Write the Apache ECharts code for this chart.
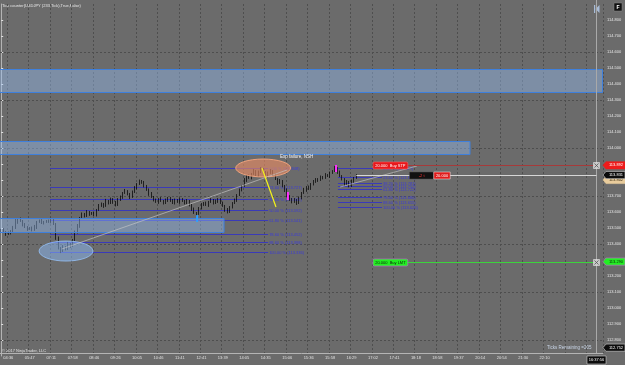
<!DOCTYPE html>
<html><head><meta charset="utf-8">
<script src="https://cdn.jsdelivr.net/npm/echarts@6/dist/echarts.min.js"></script>
<style>html,body{margin:0;padding:0;background:#6b6b6b}#c{width:625px;height:365px}</style>
</head><body><div id="c"></div>
<script>
// ---------- data ----------
const timeLabels = ['04:36','05:47','07:11','07:58','08:46','09:26','10:05','10:46','11:41','12:41','13:39','14:05','14:35','15:06','15:36','15:58','16:29','17:02','17:41','18:18','18:58','19:37','20:14','20:54','21:30','22:10'];
const firstOpen = 113.481;
const closes = [
113.488,113.475,113.463,113.469,113.481,113.500,113.538,113.556,113.544,113.519,
113.506,113.494,113.500,113.488,113.506,113.538,113.544,113.531,113.538,113.544,
113.538,113.550,113.525,113.438,113.375,113.356,113.381,113.369,113.400,113.388,
113.425,113.475,113.513,113.563,113.588,113.575,113.600,113.588,113.594,113.581,
113.613,113.638,113.650,113.638,113.669,113.656,113.681,113.663,113.644,113.675,
113.694,113.719,113.731,113.713,113.694,113.725,113.750,113.775,113.794,113.788,
113.763,113.738,113.713,113.694,113.675,113.663,113.681,113.669,113.656,113.675,
113.688,113.669,113.656,113.675,113.663,113.681,113.669,113.656,113.669,113.644,
113.619,113.594,113.588,113.625,113.644,113.656,113.644,113.663,113.675,113.656,
113.669,113.681,113.656,113.638,113.613,113.600,113.631,113.656,113.675,113.706,
113.738,113.763,113.800,113.825,113.813,113.838,113.856,113.831,113.850,113.869,
113.850,113.825,113.844,113.856,113.831,113.806,113.781,113.794,113.763,113.738,
113.700,113.681,113.663,113.675,113.656,113.688,113.719,113.738,113.756,113.744,
113.775,113.788,113.806,113.800,113.819,113.813,113.831,113.825,113.844,113.856,
113.875,113.850,113.825,113.806,113.775,113.788,113.763,113.794,113.813,113.831];
// wick lengths in points (0.001)
const wickUp = [6,12,6,9,6,13,19,6,9,6,12,6,6,9,13,6,9,12,6,6,
9,13,6,6,9,6,12,6,13,6,6,9,12,6,9,6,12,6,6,9,
6,12,9,6,13,6,9,6,6,12,9,6,13,6,6,9,12,6,9,6,
6,6,9,12,6,9,6,12,6,9,6,6,12,9,6,9,6,6,12,6,
6,9,6,6,12,6,9,6,12,6,9,6,6,9,6,12,6,6,9,6,
9,6,12,6,9,6,13,6,9,12,6,6,9,13,6,9,6,12,6,6,
9,6,6,12,6,9,6,13,6,9,6,12,6,6,9,6,12,6,9,6,
13,6,9,6,6,12,6,9,6,6];
const wickDn = [9,6,12,6,9,6,6,12,6,9,6,12,6,9,6,12,6,6,9,6,
6,9,6,12,9,13,6,9,6,12,6,6,9,12,6,9,6,12,6,6,
9,6,6,12,6,9,6,12,9,6,6,12,6,9,13,6,6,9,6,12,
9,6,12,6,9,6,12,6,9,6,12,6,6,9,6,12,6,9,6,9,
12,6,13,6,9,6,6,12,6,9,6,12,6,6,12,9,6,9,6,12,
6,9,6,12,6,9,6,6,12,6,9,6,12,6,9,6,12,6,9,13,
6,12,9,6,12,6,9,6,12,6,6,9,6,12,6,9,6,6,12,6,
6,12,6,9,12,6,9,6,12,6];
const gridLevels = [114.6,114.3,114.0,113.7,113.4,113.1,112.8];
const zoneTop = [114.494,114.044,113.563];
const zoneBottom = [114.350,113.963,113.475];
const zoneEnd = [252.3,196.7,93.5];
const fibLeftPrices = [113.875,113.756,113.681,113.613,113.550,113.463,113.413,113.350];
const fibLeftLabels = ['0.00 % (113.848)','23.60 % (113.727)','38.20 % (113.652)','50.00 % (113.592)','61.80 % (113.541)','78.60 % (113.452)','88.60 % (113.398)','100.00 % (113.336)'];
const fibLeftSpan = [20.5,112.0];
const fibRightPrices = [113.875,113.819,113.781,113.763,113.744,113.694,113.663,113.631];
const fibRightLabels = ['0.00 % (113.877)','23.60 % (113.818)','38.20 % (113.781)','50.00 % (113.752)','61.80 % (113.722)','78.60 % (113.680)','88.60 % (113.655)','100.00 % (113.626)'];
const fibRightSpan = [141.3,159.8];
const ellipseX = [109.9,27.2];
const ellipseP = [113.875,113.356];
const ellipseHalfW = [11.5,11.3];
const ellipseHalfH = [0.056,0.0625];
const diagX0 = [25.5,142.2,109.4];
const diagP0 = [113.369,113.756,113.875];
const diagX1 = [120.0,174.5,115.3];
const diagP1 = [113.863,113.888,113.631];
const markerX = [120.3,140.5,82.2];
const markerTopP = [113.725,113.894,113.581];
const markerBotP = [113.675,113.850,113.538];
const orderPrices = [113.892,113.290];
const orderLabels = ['20.000  Buy STP','20.000  Buy LMT'];
const orderLabelSpan = [156.0,170.6];
const nowIndex = 249.6;
const badgePrices = [113.892,113.800,113.290,112.752];
const badgeTexts = ['113.892','113.802','113.290','112.752'];
const positionQty = '20.000';
const positionPnl = '-2 t';
const noteText = 'Exp failure, NSH';
const noteX = 117.0, noteP = 113.944;

// ---------- build ----------
const N = 253;
const cats = Array.from({length:N}, (_, i) => String(i));
const ohlc = closes.map((c, i) => {
  const o = i === 0 ? firstOpen : closes[i-1];
  return [o, c, Math.min(o,c) - wickDn[i]*0.001, Math.max(o,c) + wickUp[i]*0.001];
});
const lastClose = closes[closes.length-1];
const FONT = '"Liberation Sans", Arial, sans-serif';
const labelTick = (i) => i % 9 === 3;

function txt(x, y, t, fill, size, align, va, weight) {
  return {type:'text', x, y, style:{text:t, fill, fontSize:size||4, fontFamily:FONT, fontWeight:weight||'normal', align:align||'left', verticalAlign:va||'middle'}};
}

const chart = echarts.init(document.getElementById('c'), null, {renderer:'canvas'});
const option = {
  backgroundColor:'#6b6b6b',
  animation:false,
  grid:{left:0, right:22, top:4, bottom:9, containLabel:false},
  xAxis:[{
    type:'category', data:cats, boundaryGap:true, offset:-3,
    axisLine:{show:true, lineStyle:{color:'#b4b4b4', width:1}},
    axisTick:{show:false},
    axisLabel:{interval:labelTick, color:'#e0e0e0', fontSize:4, fontFamily:FONT, margin:3,
      formatter:(v, idx) => timeLabels[(idx-3)/9] || ''},
    splitLine:{show:true, interval:labelTick, lineStyle:{color:'#4e4e4e', width:1, type:[2,2]}}
  },{
    type:'value', min:-0.5, max:252.5, show:false
  }],
  yAxis:{
    type:'value', position:'right', min:112.7, max:114.9, interval:0.1,
    axisLine:{show:true, lineStyle:{color:'#b4b4b4'}},
    axisTick:{show:true, length:2, lineStyle:{color:'#e0e0e0'}},
    axisLabel:{color:'#e6e6e6', fontSize:4, fontFamily:FONT, margin:4, showMinLabel:false, showMaxLabel:false,
      formatter:(v) => v.toFixed(3)},
    splitLine:{show:false}
  },
  series:[
    { // horizontal dashed grid
      type:'custom', xAxisIndex:1, z:1, silent:true, data:gridLevels.map(p => [p]),
      renderItem:(params, api) => {
        const p = gridLevels[params.dataIndex];
        const a = api.coord([-0.5, p]), b = api.coord([252.5, p]);
        return {type:'line', shape:{x1:a[0], y1:Math.round(a[1])+0.5, x2:b[0], y2:Math.round(a[1])+0.5},
          style:{stroke:'#4e4e4e', lineWidth:1, lineDash:[2,2]}};
      }
    },
    { // fibonacci lines
      type:'custom', xAxisIndex:1, z:2, silent:true,
      data:fibLeftPrices.concat(fibRightPrices).map(p => [p]),
      renderItem:(params, api) => {
        const i = params.dataIndex;
        const left = i < fibLeftPrices.length;
        const k = left ? i : i - fibLeftPrices.length;
        const p = left ? fibLeftPrices[k] : fibRightPrices[k];
        const span = left ? fibLeftSpan : fibRightSpan;
        const lab = left ? fibLeftLabels[k] : fibRightLabels[k];
        const a = api.coord([span[0], p]), b = api.coord([span[1], p]);
        const y = Math.round(a[1]) + 0.5;
        return {type:'group', children:[
          {type:'line', shape:{x1:a[0], y1:y, x2:b[0], y2:y}, style:{stroke:'#3a3ab8', lineWidth:1}},
          txt(b[0]+1, y, lab, '#3b3bd8', 4, 'left', 'middle')
        ]};
      }
    },
    { // price bars
      type:'candlestick', xAxisIndex:0, z:3, data:ohlc, barWidth:1.2, silent:true,
      itemStyle:{color:'#000', color0:'#000', borderColor:'#000', borderColor0:'#000', borderWidth:0.7}
    },
    { // zones
      type:'custom', xAxisIndex:1, z:4, silent:true, data:zoneTop.map(p => [p]),
      renderItem:(params, api) => {
        const i = params.dataIndex;
        const a = api.coord([-0.5, zoneTop[i]]), b = api.coord([zoneEnd[i], zoneBottom[i]]);
        return {type:'rect', shape:{x:a[0]-1, y:Math.round(a[1])+0.5, width:b[0]-a[0]+1, height:Math.round(b[1]-a[1])},
          style:{fill:'rgba(150,190,245,0.42)', stroke:'#3f80dc', lineWidth:1}};
      }
    },
    { // ellipses
      type:'custom', xAxisIndex:1, z:4, silent:true, data:ellipseX.map(x => [x]),
      renderItem:(params, api) => {
        const i = params.dataIndex;
        const c = api.coord([ellipseX[i], ellipseP[i]]);
        const e = api.coord([ellipseX[i] + ellipseHalfW[i], ellipseP[i] - ellipseHalfH[i]]);
        const rx = e[0] - c[0], ry = e[1] - c[1];
        const d = `M ${c[0]-rx} ${c[1]} A ${rx} ${ry} 0 1 0 ${c[0]+rx} ${c[1]} A ${rx} ${ry} 0 1 0 ${c[0]-rx} ${c[1]} Z`;
        const fill = i === 0 ? 'rgba(236,140,100,0.62)' : 'rgba(140,185,245,0.5)';
        const stroke = i === 0 ? 'rgba(245,165,125,0.9)' : 'rgba(150,195,250,0.8)';
        return {type:'path', shape:{pathData:d}, style:{fill, stroke, lineWidth:1}};
      }
    },
    { // drawn trend lines
      type:'custom', xAxisIndex:1, z:5, silent:true, data:diagX0.map(x => [x]),
      renderItem:(params, api) => {
        const i = params.dataIndex;
        const a = api.coord([diagX0[i], diagP0[i]]), b = api.coord([diagX1[i], diagP1[i]]);
        const yellow = i === 2;
        return {type:'line', shape:{x1:a[0], y1:a[1], x2:b[0], y2:b[1]},
          style:{stroke: yellow ? '#f4f41c' : 'rgba(200,200,200,0.8)', lineWidth: yellow ? 1.2 : 0.8}};
      }
    },
    { // signal markers
      type:'custom', xAxisIndex:1, z:5, silent:true, data:markerX.map(x => [x]),
      renderItem:(params, api) => {
        const i = params.dataIndex;
        const a = api.coord([markerX[i], markerTopP[i]]), b = api.coord([markerX[i], markerBotP[i]]);
        return {type:'rect', shape:{x:a[0]-1, y:a[1], width:2, height:b[1]-a[1]},
          style:{fill: i < 2 ? '#ff30ff' : '#2ea0ff'}};
      }
    },
    { // orders, current price line, position, note, now line, axis badges
      type:'custom', xAxisIndex:1, z:6, silent:true, data:[[0]],
      renderItem:(params, api) => {
        const ch = [];
        const nowX = Math.round(api.coord([nowIndex, lastClose])[0]) + 0.5;
        const bot = api.coord([0, 112.7])[1];
        ch.push({type:'line', shape:{x1:nowX, y1:0, x2:nowX, y2:bot-3}, style:{stroke:'#a9a9a9', lineWidth:1}});
        const lc = api.coord([closes.length-1, lastClose]);
        const ly = Math.round(lc[1]) + 0.5;
        ch.push({type:'line', shape:{x1:lc[0], y1:ly, x2:nowX, y2:ly}, style:{stroke:'#d6d6d6', lineWidth:1}});
        const p0 = api.coord([171.3, lastClose])[0], p1 = api.coord([181.5, lastClose])[0], p2 = api.coord([188.4, lastClose])[0];
        ch.push({type:'rect', shape:{x:p0, y:ly-3.5, width:p1-p0, height:7}, style:{fill:'#111', stroke:'#555', lineWidth:0.5}});
        ch.push(txt((p0+p1)/2, ly, positionPnl, '#ff3030', 4, 'center'));
        ch.push({type:'rect', shape:{x:p1, y:ly-3.5, width:p2-p1, height:7}, style:{fill:'#e01c1c', stroke:'#f0f0f0', lineWidth:0.5}});
        ch.push(txt((p1+p2)/2, ly, positionQty, '#ffffff', 4, 'center'));
        orderPrices.forEach((p, i) => {
          const a = api.coord([orderLabelSpan[0], p]), b = api.coord([orderLabelSpan[1], p]);
          const y = Math.round(a[1]) + 0.5;
          const red = i === 0;
          ch.push({type:'line', shape:{x1:b[0], y1:y, x2:nowX, y2:y}, style:{stroke: red ? '#a63a3a' : '#3cd43c', lineWidth:1}});
          ch.push({type:'rect', shape:{x:a[0], y:y-3.5, width:b[0]-a[0], height:7, r:1.5},
            style:{fill: red ? '#e8181c' : '#22ee22', stroke: red ? '#ff6060' : '#c070d0', lineWidth:0.6}});
          ch.push(txt((a[0]+b[0])/2, y, orderLabels[i], red ? '#ffffff' : '#102010', 4, 'center'));
          ch.push({type:'rect', shape:{x:nowX-3, y:y-3, width:6, height:6}, style:{fill:'#c8c8c8', stroke:'#f0f0f0', lineWidth:0.5}});
          ch.push({type:'line', shape:{x1:nowX-2, y1:y-2, x2:nowX+2, y2:y+2}, style:{stroke:'#555', lineWidth:0.8}});
          ch.push({type:'line', shape:{x1:nowX-2, y1:y+2, x2:nowX+2, y2:y-2}, style:{stroke:'#555', lineWidth:0.8}});
        });
        const n = api.coord([noteX, noteP]);
        ch.push(txt(n[0], n[1], noteText, '#f2f2f2', 4.5, 'left'));
        const ax = api.coord([252.5, lastClose])[0];
        const badge = (p, t, fill, color, stroke) => {
          const y = api.coord([0, p])[1];
          ch.push({type:'polygon', shape:{points:[[ax,y],[ax+3,y-3.6],[625,y-3.6],[625,y+3.6],[ax+3,y+3.6]]},
            style:{fill, stroke:stroke||fill, lineWidth:0.6}});
          ch.push(txt(ax+13, y, t, color, 4, 'center'));
        };
        badge(badgePrices[1], badgeTexts[1], '#e9cc9c', '#3a2a10');
        badge(badgePrices[0], badgeTexts[0], '#ee1c1c', '#ffffff');
        badge(lastClose, lastClose.toFixed(3), '#0c0c0c', '#ffffff', '#d0d0d0');
        badge(badgePrices[2], badgeTexts[2], '#22ee22', '#0c200c', '#c070d0');
        badge(badgePrices[3], badgeTexts[3], '#0c0c0c', '#ffffff', '#d0d0d0');
        ch.push({type:'rect', shape:{x:nowX-9.5, y:356, width:19, height:8}, style:{fill:'#0c0c0c', stroke:'#d0d0d0', lineWidth:0.6}});
        ch.push(txt(nowX, 360, '16:37:56', '#ffffff', 4, 'center'));
        return {type:'group', children:ch};
      }
    }
  ],
  graphic:[
    txt(2, 6, 'Tick counter(USDJPY (233 Tick),True,False)', '#e8e8e8', 4, 'left'),
    txt(2, 351, '\u00a9 2017 NinjaTrader, LLC', '#e0e0e0', 4, 'left'),
    txt(547, 348, 'Ticks Remaining =205', '#c8d4e6', 4.5, 'left'),
    {type:'rect', shape:{x:614, y:3, width:8, height:8}, style:{fill:'#111', stroke:'#888', lineWidth:0.5}},
    txt(618, 7.5, 'F', '#ffffff', 5, 'center', 'middle', 'bold'),
    {type:'rect', shape:{x:594, y:5, width:1.2, height:8}, style:{fill:'#a8bcd8'}},
    {type:'polygon', shape:{points:[[595.5,9],[599.5,5],[599.5,13]]}, style:{fill:'#a8bcd8'}}
  ]
};
chart.setOption(option);
</script>
</body></html>
